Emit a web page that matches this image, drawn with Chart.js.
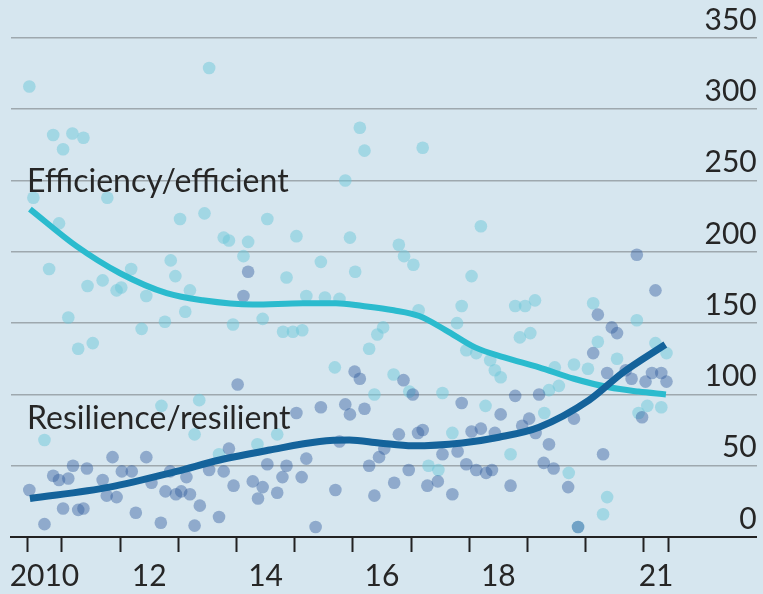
<!DOCTYPE html>
<html>
<head>
    <title>Efficiency vs resilience</title>
    <script src="https://cdn.jsdelivr.net/npm/chart.js"></script>
    <style>
        body {
            margin: 0;
            background: #d6e6ef;
        }
        canvas {
            display: block;
        }
    </style>
</head>
<body>
    <canvas id="chart" width="763" height="594"></canvas>
    <script>
        // monthly mentions (decimal year, count)
        const effYears = [2010.44, 2010.51, 2010.70, 2010.78, 2010.85, 2010.95, 2011.02, 2011.11, 2011.18, 2011.28,
            2011.37, 2011.44, 2011.53, 2011.70, 2011.78, 2011.94, 2012.02, 2012.19, 2012.37, 2012.45,
            2012.71, 2012.77, 2012.87, 2012.95, 2013.03, 2013.12, 2013.20, 2013.28, 2013.36, 2013.45,
            2013.53, 2013.70, 2013.78, 2013.87, 2013.94, 2014.12, 2014.20, 2014.36, 2014.45, 2014.53,
            2014.70, 2014.80, 2014.86, 2014.97, 2015.03, 2015.13, 2015.20, 2015.45, 2015.52, 2015.69,
            2015.77, 2015.87, 2015.95, 2016.04, 2016.12, 2016.20, 2016.28, 2016.37, 2016.42, 2016.52,
            2016.70, 2016.79, 2016.88, 2016.97, 2017.04, 2017.13, 2017.20, 2017.30, 2017.47, 2017.54,
            2017.71, 2017.79, 2017.87, 2017.95, 2018.04, 2018.12, 2018.20, 2018.28, 2018.36, 2018.44,
            2018.54, 2018.71, 2018.79, 2018.87, 2018.96, 2019.05, 2019.13, 2019.29, 2019.37, 2019.47,
            2019.54, 2019.71, 2019.80, 2019.87, 2020.04, 2020.13, 2020.21, 2020.30, 2020.37, 2020.54,
            2020.88, 2020.91, 2021.06, 2021.20, 2021.30, 2021.39];
        const effValues = [316, 238, 68, 188, 282, 220, 272, 154, 283, 132,
            280, 176, 136, 180, 238, 173, 175, 188, 146, 169,
            92, 151, 194, 183, 223, 158, 173, 72, 96, 227,
            329, 58, 210, 208, 149, 197, 207, 65, 153, 223,
            72, 144, 182, 144, 211, 145, 169, 193, 168, 119,
            167, 250, 210, 186, 287, 271, 132, 100, 142, 147,
            114, 205, 197, 102, 191, 159, 273, 50, 47, 101,
            73, 150, 162, 131, 183, 129, 218, 92, 124, 117,
            112, 58, 162, 140, 162, 143, 166, 87, 103, 119,
            106, 45, 121, 7, 118, 164, 137, 16, 28, 125,
            152, 87, 92, 136, 91, 129];

        const resYears = [2010.44, 2010.70, 2010.85, 2010.95, 2011.02, 2011.11, 2011.19, 2011.28, 2011.37, 2011.43,
            2011.70, 2011.77, 2011.87, 2011.94, 2012.03, 2012.20, 2012.27, 2012.45, 2012.54, 2012.70,
            2012.78, 2012.86, 2012.96, 2013.05, 2013.14, 2013.20, 2013.28, 2013.37, 2013.53, 2013.70,
            2013.78, 2013.87, 2013.95, 2014.02, 2014.12, 2014.20, 2014.28, 2014.37, 2014.45, 2014.53,
            2014.70, 2014.79, 2014.86, 2015.03, 2015.12, 2015.20, 2015.36, 2015.45, 2015.70, 2015.77,
            2015.87, 2015.95, 2016.03, 2016.12, 2016.20, 2016.28, 2016.37, 2016.45, 2016.54, 2016.71,
            2016.79, 2016.87, 2016.96, 2017.03, 2017.12, 2017.20, 2017.28, 2017.46, 2017.54, 2017.71,
            2017.80, 2017.87, 2017.95, 2018.04, 2018.12, 2018.20, 2018.29, 2018.39, 2018.44, 2018.54,
            2018.71, 2018.79, 2018.91, 2019.03, 2019.14, 2019.20, 2019.28, 2019.37, 2019.45, 2019.70,
            2019.80, 2019.87, 2020.13, 2020.21, 2020.30, 2020.37, 2020.45, 2020.54, 2020.69, 2020.79,
            2020.88, 2020.97, 2021.03, 2021.14, 2021.20, 2021.30, 2021.39];
        const resValues = [33, 9, 43, 40, 20, 41, 50, 19, 20, 48,
            40, 29, 56, 28, 46, 46, 17, 56, 38, 10,
            32, 46, 30, 32, 42, 30, 8, 22, 47, 14,
            46, 62, 36, 107, 169, 186, 39, 27, 35, 51,
            31, 42, 50, 87, 42, 55, 7, 91, 33, 67,
            93, 86, 116, 111, 90, 50, 29, 56, 62, 38,
            72, 110, 47, 100, 73, 75, 36, 39, 58, 30,
            60, 94, 51, 74, 47, 76, 45, 47, 73, 86,
            36, 99, 78, 83, 73, 100, 52, 65, 48, 35,
            83, 7, 129, 156, 58, 115, 147, 143, 117, 111,
            198, 84, 109, 115, 173, 115, 109];

        // smoothed trends
        const effTrendYears = [2010.45, 2011.25, 2012.0, 2012.8, 2013.42, 2014.28, 2015.14, 2015.71, 2016.17,
            2016.7, 2017.14, 2017.6, 2018.1, 2018.6, 2019.2, 2019.8, 2020.4, 2020.91, 2021.38];
        const effTrend = [230, 204, 185, 171, 166, 163, 164, 164, 162,
            159, 155, 145, 133, 126, 119, 111, 105, 102, 100];
        const resTrendYears = [2010.45, 2011.82, 2012.97, 2013.71, 2014.57, 2015.43, 2015.94, 2016.45,
            2017.03, 2017.88, 2018.51, 2019.2, 2020.06, 2020.63, 2021.37];
        const resTrend = [27, 35, 46, 54, 61, 67, 68, 66,
            64, 66, 70, 77, 96, 115, 135];

        // x axis: tick marks at year boundaries, labels in the middle of the year
        const tickMarks = [2010.4, 2011, 2012, 2013, 2014, 2015, 2016, 2017, 2018, 2019, 2020, 2021, 2021.43];
        const xLabelPos = [2010.7, 2012.5, 2014.5, 2016.5, 2018.5, 2021.21];
        const xLabels = ['2010', '12', '14', '16', '18', '21'];
        const yTicks = [0, 50, 100, 150, 200, 250, 300, 350];

        const toXY = (xs, ys) => xs.map((x, i) => ({x: x, y: ys[i]}));
        const labelAt = new Map(xLabelPos.map((v, i) => [v, xLabels[i]]));
        const textFont = {family: 'Lato', size: 30, weight: 400};

        const lineLabels = {
            id: 'lineLabels',
            afterDatasetsDraw(chart) {
                const {ctx, scales: {x, y}} = chart;
                ctx.save();
                ctx.font = '32px Lato';
                ctx.fillStyle = '#262626';
                ctx.textBaseline = 'alphabetic';
                ctx.fillText('Efficiency/efficient', x.getPixelForValue(2010.4), y.getPixelForValue(242));
                ctx.fillText('Resilience/resilient', x.getPixelForValue(2010.4), y.getPixelForValue(76));
                ctx.restore();
            }
        };

        new Chart(document.getElementById('chart'), {
            data: {
                datasets: [
                    {
                        type: 'line',
                        data: toXY(resTrendYears, resTrend),
                        borderColor: '#14639b',
                        borderWidth: 7,
                        pointRadius: 0,
                        cubicInterpolationMode: 'monotone',
                        borderCapStyle: 'butt'
                    },
                    {
                        type: 'line',
                        data: toXY(effTrendYears, effTrend),
                        borderColor: '#2bbbce',
                        borderWidth: 6,
                        pointRadius: 0,
                        cubicInterpolationMode: 'monotone',
                        borderCapStyle: 'butt'
                    },
                    {
                        type: 'scatter',
                        data: toXY(resYears, resValues),
                        backgroundColor: 'rgba(46, 88, 156, 0.42)',
                        borderWidth: 0,
                        pointRadius: 6.3
                    },
                    {
                        type: 'scatter',
                        data: toXY(effYears, effValues),
                        backgroundColor: 'rgba(110, 200, 218, 0.5)',
                        borderWidth: 0,
                        pointRadius: 6.3
                    }
                ]
            },
            options: {
                responsive: false,
                animation: false,
                layout: {padding: {top: 38, left: 11, right: 5, bottom: 0}},
                plugins: {legend: {display: false}, tooltip: {enabled: false}},
                scales: {
                    x: {
                        type: 'linear',
                        min: 2010.125,
                        max: 2022.94,
                        afterBuildTicks: (scale) => {
                            scale.ticks = tickMarks.concat(xLabelPos).sort((a, b) => a - b).map(v => ({value: v}));
                        },
                        afterFit: (scale) => {
                            scale.height = 57;
                        },
                        grid: {
                            drawOnChartArea: false,
                            drawTicks: true,
                            tickLength: 15,
                            tickWidth: 2,
                            tickColor: (c) => labelAt.has(c.tick && c.tick.value) ? 'rgba(0,0,0,0)' : '#222'
                        },
                        border: {display: true, color: '#222', width: 2},
                        ticks: {
                            autoSkip: false,
                            maxRotation: 0,
                            padding: 6,
                            color: '#262626',
                            font: textFont,
                            callback: (v) => labelAt.get(v) || ''
                        }
                    },
                    y: {
                        type: 'linear',
                        position: 'right',
                        min: 0,
                        max: 350,
                        afterBuildTicks: (scale) => {
                            scale.ticks = yTicks.map(v => ({value: v}));
                        },
                        grid: {
                            drawTicks: false,
                            lineWidth: 1.6,
                            color: (c) => c.tick && c.tick.value === 0 ? 'rgba(0,0,0,0)' : '#9ea8ae'
                        },
                        border: {display: false},
                        ticks: {
                            mirror: true,
                            padding: 0,
                            labelOffset: -18,
                            color: '#262626',
                            font: textFont
                        }
                    }
                }
            },
            plugins: [lineLabels]
        });
    </script>
</body>
</html>
